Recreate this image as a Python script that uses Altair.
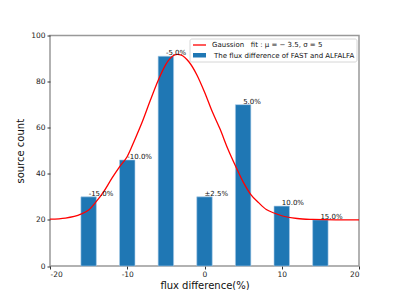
import altair as alt
import pandas as pd

# Bar data
bins = [-15, -10, -5, 0, 5, 10, 15]
counts = [30, 46, 91, 30, 70, 26, 20]
bar_labels = ["-15.0%", "-10.0%", "-5.0%", "\u00b12.5%", "5.0%", "10.0%", "15.0%"]

# Gaussian fit curve
curve_x = [-20, -18, -16, -15, -14, -13, -12, -11, -10, -9, -8, -7, -6, -5, -4, -3.5,
           -3, -2, -1, 0, 1, 2, 3, 4, 5, 6, 7, 8, 9, 10, 12, 14, 17, 20]
curve_y = [20.3, 20.8, 22.5, 24.3, 28.0, 32.5, 38.0, 43.0, 47.5, 55.0, 63.0, 72.0, 80.5,
           87.5, 91.3, 91.8, 91.5, 88.5, 83.0, 75.5, 67.0, 59.5, 51.0, 43.5, 36.5, 31.0,
           27.5, 24.5, 23.0, 21.8, 20.6, 20.2, 20.0, 20.0]

legend_line_label = "Gaussion\u00a0\u00a0\u00a0fit : \u03bc = \u2212 3.5, \u03c3 = 5"
legend_bar_label = "The flux difference of FAST and ALFALFA"

bars_df = pd.DataFrame({"x": bins, "count": counts, "label": bar_labels})
curve_df = pd.DataFrame({"x": curve_x, "y": curve_y})

FONT = "DejaVu Sans"
W, H = 309, 230.5

xscale = alt.Scale(domain=[-20, 20], nice=False, zero=False)
yscale = alt.Scale(domain=[0, 100], nice=False)

xaxis = alt.Axis(values=[-20, -15, -10, -5, 0, 5, 10, 15, 20], labelExpr="'' + datum.value",
                 title="flux difference(%)", grid=False, domain=False,
                 tickColor="#333", tickSize=3, labelFontSize=7.5, labelColor="#222",
                 titleFontSize=10, titleFontWeight="normal", titleColor="#111",
                 labelPadding=1, titlePadding=3, labelFont=FONT, titleFont=FONT)
yaxis = alt.Axis(values=[0, 20, 40, 60, 80, 100], title="source count", grid=False, domain=False,
                 tickColor="#333", tickSize=3, labelFontSize=7.5, labelColor="#222",
                 titleFontSize=10, titleFontWeight="normal", titleColor="#111",
                 labelPadding=2, titlePadding=5, labelFont=FONT, titleFont=FONT)

base = alt.Chart(bars_df)

bars = base.transform_calculate(x1="datum.x - 1", x2="datum.x + 1").mark_rect(
    color="#1f77b4", stroke="#a9cbe8", strokeWidth=0.6
).encode(
    x=alt.X("x1:Q", scale=xscale, axis=xaxis),
    x2="x2:Q",
    y=alt.Y("count:Q", scale=yscale, axis=yaxis),
    y2=alt.datum(0),
)

labels = base.mark_text(align="left", baseline="bottom", dy=0, fontSize=7, font=FONT,
                        color="#111").encode(
    x=alt.X("x:Q", scale=xscale),
    y=alt.Y("count:Q", scale=yscale),
    text="label:N",
)

curve = alt.Chart(curve_df).mark_line(color="#ff0000", strokeWidth=1.3, interpolate="monotone").encode(
    x=alt.X("x:Q", scale=xscale),
    y=alt.Y("y:Q", scale=yscale),
)

one = alt.Data(values=[{"a": 1}])
lx0 = 140
legend_box = alt.Chart(one).mark_rect(fill="white", fillOpacity=0.85, stroke="#ccc",
                                      strokeWidth=0.8, cornerRadius=2).encode(
    x=alt.value(lx0), x2=alt.value(lx0 + 167), y=alt.value(3.5), y2=alt.value(26.5))
legend_line = alt.Chart(one).mark_rule(color="#ff0000", strokeWidth=1.3).encode(
    x=alt.value(lx0 + 3), x2=alt.value(lx0 + 16), y=alt.value(9.5))
legend_rect = alt.Chart(one).mark_rect(color="#1f77b4").encode(
    x=alt.value(lx0 + 3), x2=alt.value(lx0 + 16), y=alt.value(17.5), y2=alt.value(22))
legend_t1 = alt.Chart(one).mark_text(align="left", baseline="middle", fontSize=7, font=FONT,
                                     color="#111").encode(
    x=alt.value(lx0 + 22), y=alt.value(9.5), text=alt.value(legend_line_label))
legend_t2 = alt.Chart(one).mark_text(align="left", baseline="middle", fontSize=7, font=FONT,
                                     color="#111").encode(
    x=alt.value(lx0 + 24), y=alt.value(20), text=alt.value(legend_bar_label))

chart = alt.layer(bars, curve, labels, legend_box, legend_line, legend_rect, legend_t1, legend_t2).properties(
    width=W, height=H,
    autosize=alt.AutoSizeParams(type="none"),
    padding={"left": 42, "top": 27.5, "right": 30, "bottom": 24},
    background="white",
).configure_view(stroke="#999", strokeWidth=1.5)

chart.save("out.html", embed_options={"renderer": "svg", "actions": False})
